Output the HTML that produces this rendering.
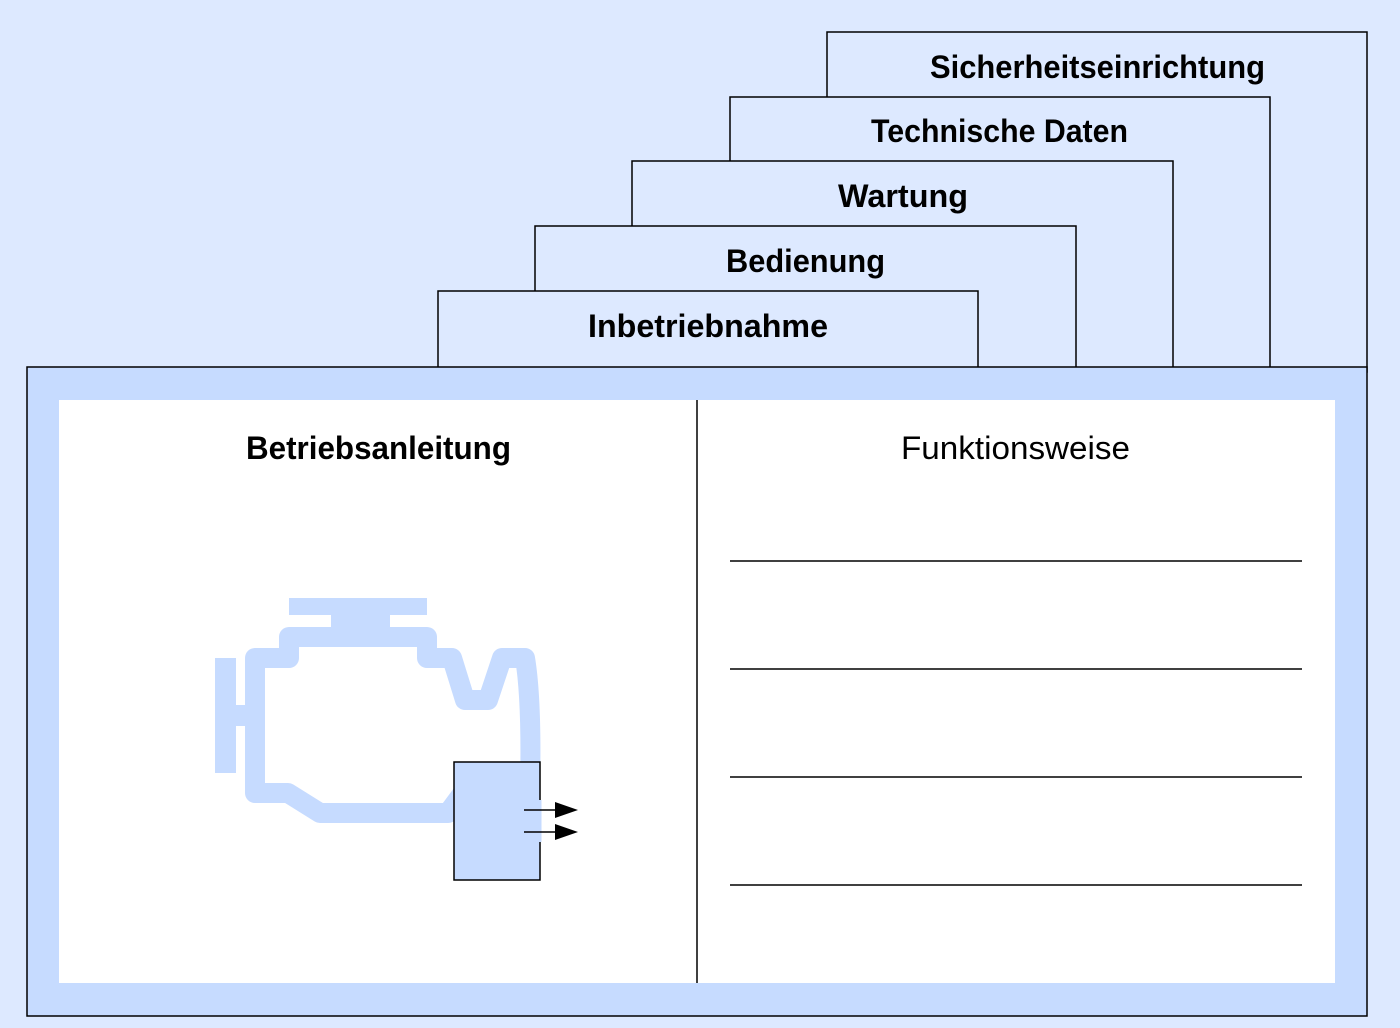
<!DOCTYPE html>
<html><head><meta charset="utf-8"><style>
html,body{margin:0;padding:0;background:#dde9ff;}
svg{display:block;}
text{font-family:"Liberation Sans",sans-serif;font-size:32px;fill:#000;}
.b{font-weight:bold;}
</style></head><body>
<svg width="1400" height="1028" viewBox="0 0 1400 1028" xmlns="http://www.w3.org/2000/svg">
<rect width="1400" height="1028" fill="#dde9ff"/>
<g fill="#dde9ff" stroke="#000" stroke-width="1.5">
<rect x="827" y="32" width="540" height="340"/>
<rect x="730" y="97" width="540" height="275"/>
<rect x="632" y="161" width="541" height="211"/>
<rect x="535" y="226" width="541" height="146"/>
<rect x="438" y="291" width="540" height="81"/>
</g>
<text class="b" x="930" y="78" textLength="335" lengthAdjust="spacingAndGlyphs">Sicherheitseinrichtung</text>
<text class="b" x="871" y="142" textLength="257" lengthAdjust="spacingAndGlyphs">Technische Daten</text>
<text class="b" x="838" y="207" textLength="130" lengthAdjust="spacingAndGlyphs">Wartung</text>
<text class="b" x="726" y="272" textLength="159" lengthAdjust="spacingAndGlyphs">Bedienung</text>
<text class="b" x="588" y="337" textLength="240" lengthAdjust="spacingAndGlyphs">Inbetriebnahme</text>
<rect x="27" y="367" width="1340" height="649" fill="#c6dbff" stroke="#000" stroke-width="1.5"/>
<rect x="59" y="400" width="1276" height="583" fill="#fff"/>
<line x1="697" y1="400" x2="697" y2="983" stroke="#000" stroke-width="1.5"/>
<text class="b" x="246" y="459" textLength="265" lengthAdjust="spacingAndGlyphs">Betriebsanleitung</text>
<text x="901" y="459" textLength="229" lengthAdjust="spacingAndGlyphs">Funktionsweise</text>
<g stroke="#000" stroke-width="1.5">
<line x1="730" y1="561" x2="1302" y2="561"/>
<line x1="730" y1="669" x2="1302" y2="669"/>
<line x1="730" y1="777" x2="1302" y2="777"/>
<line x1="730" y1="885" x2="1302" y2="885"/>
</g>
<g fill="#c6dbff">
<rect x="289" y="598" width="138" height="17"/>
<rect x="331" y="612" width="59" height="30"/>
<rect x="215" y="658" width="21" height="115"/>
<rect x="234" y="705" width="22" height="21"/>
</g>
<path d="M255 668 L255 658 L289 658 L289 637 L427 637 L427 658 L452 658 L465 700 L488 700 L502 658 L525 658 Q532 700 530 790 L465 790 L448 813 L320 813 L288 793 L255 793 Z" fill="none" stroke="#c6dbff" stroke-width="20" stroke-linejoin="round"/>
<rect x="454" y="762" width="86" height="118" fill="#c6dbff" stroke="#000" stroke-width="1.5"/>
<line x1="540" y1="800" x2="540" y2="842" stroke="#c6dbff" stroke-width="3"/>
<g stroke="#000" stroke-width="1.5">
<line x1="524" y1="810" x2="558" y2="810"/>
<line x1="524" y1="832" x2="558" y2="832"/>
</g>
<polygon points="555,802 578,810 555,818" fill="#000"/>
<polygon points="555,824 578,832 555,840" fill="#000"/>
</svg>
</body></html>
